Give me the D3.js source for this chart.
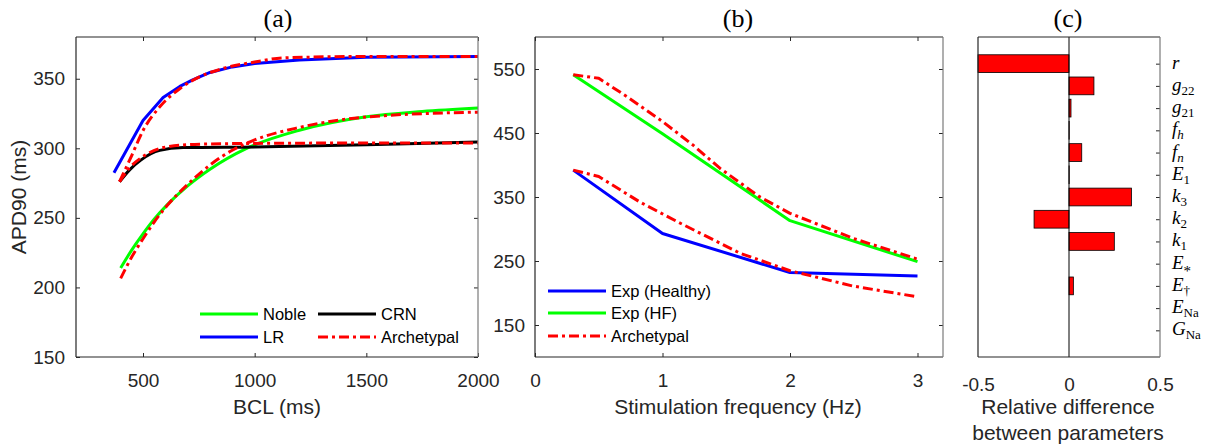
<!DOCTYPE html>
<html><head><meta charset="utf-8">
<script src="https://cdn.jsdelivr.net/npm/d3@7"></script>
<style>
body{margin:0;background:#fff;}
svg{display:block;}
</style></head>
<body>
<script>
// ---------- DATA ----------
// Panel (a): APD90 vs BCL
const nobleBCL = [400, 450, 500, 550, 606, 700, 800, 964, 1200, 1500, 1750, 2000];
const nobleAPD = [214, 227, 238.5, 249, 259, 273, 285, 300, 313, 322.7, 326.5, 329];
const lrBCL = [370, 500, 590, 665, 720, 800, 900, 1000, 1200, 1500, 2000];
const lrAPD = [282.5, 320, 336.5, 344.5, 349, 354.5, 358.5, 361, 363.5, 365.5, 366];
const crnBCL = [395, 440, 490, 575, 680, 1000, 1500, 2000];
const crnAPD = [276, 284.5, 291.5, 298.5, 300.5, 301, 302.5, 304.5];
const archNobleBCL = [400, 450, 500, 550, 606, 700, 800, 904, 1000, 1200, 1500, 2000];
const archNobleAPD = [206.5, 222, 235, 247, 258.5, 274, 288, 299, 306, 315, 322.5, 326];
const archLRBCL = [395, 450, 501, 576, 666, 755, 850, 1000, 1130, 1500, 2000];
const archLRAPD = [276, 295, 313, 330, 343, 351.5, 357, 362, 365, 366, 366];
const archCRNBCL = [395, 440, 490, 606, 755, 1000, 1500, 2000];
const archCRNAPD = [276, 286, 293, 301, 303, 303.5, 303.8, 303.8];
const xTicksA = [500, 1000, 1500, 2000];
const yTicksA = [150, 200, 250, 300, 350];

// Panel (b): APD90 vs stimulation frequency
const expFreq = [0.3, 1, 2, 3];
const expHealthy = [392, 293, 232, 226.5];
const expHF = [541, 449, 313, 249];
const archHFFreq = [0.3, 0.5, 0.72, 1.0, 1.24, 1.45, 1.76, 2.0, 2.5, 3.0];
const archHF = [541, 535.5, 507, 468, 431, 395, 350.5, 324.5, 285, 253];
const archHealthyFreq = [0.3, 0.5, 0.82, 1.14, 1.61, 2.0, 2.49, 3.0];
const archHealthy = [392, 382, 342.5, 309, 262, 234.8, 211, 194];
const xTicksB = [0, 1, 2, 3];
const yTicksB = [150, 250, 350, 450, 550];

// Panel (c): relative difference between parameters
const paramBase = ["r", "g", "g", "f", "f", "E", "k", "k", "k", "E", "E", "E", "G"];
const paramSub  = ["", "22", "21", "h", "n", "1", "3", "2", "1", "*", "\u2020", "Na", "Na"];
const paramValues = [-0.5, 0.137, 0.011, 0.001, 0.07, 0.001, 0.343, -0.192, 0.249, 0, 0.024, 0, 0];
const xTicksC = [-0.5, 0, 0.5];
const xTickLabelsC = ["-0.5", "0", "0.5"];

// ---------- DRAW ----------
const W = 1215, H = 448;
const SANS = '"Liberation Sans", Arial, sans-serif';
const SERIF = '"Liberation Serif", "Times New Roman", serif';
const AX = "#262626";
const svg = d3.select("body").append("svg").attr("width", W).attr("height", H);

const top0 = 37, bot0 = 357;
const GREEN = "#00ff00", BLUE = "#0000ff", RED = "#ff0000", BLACK = "#000000";
const DASHDOT = "10,4,3,4";

function styleAxis(g, fs) {
  g.select(".domain").remove();
  g.selectAll(".tick line").attr("stroke", AX).attr("stroke-width", 1);
  g.selectAll(".tick text").attr("font-size", fs).attr("font-family", SANS).attr("fill", AX);
}
function frame(x0, x1) {
  svg.append("line").attr("x1", x0).attr("x2", x1).attr("y1", bot0).attr("y2", bot0).attr("stroke", AX).attr("stroke-width", 1.2);
  svg.append("line").attr("x1", x0).attr("x2", x1).attr("y1", top0).attr("y2", top0).attr("stroke", AX).attr("stroke-width", 1.2);
  svg.append("line").attr("x1", x0).attr("x2", x0).attr("y1", top0).attr("y2", bot0).attr("stroke", AX).attr("stroke-width", 1.2);
  svg.append("line").attr("x1", x1).attr("x2", x1).attr("y1", top0).attr("y2", bot0).attr("stroke", "#7a7a7a").attr("stroke-width", 1.2);
}
function title(x, t) {
  svg.append("text").attr("x", x).attr("y", 27).attr("text-anchor", "middle")
    .attr("font-family", SERIF).attr("font-size", 26).attr("fill", "#000").text(t);
}
function label(x, y, t, rot) {
  const tx = svg.append("text").attr("text-anchor", "middle")
    .attr("font-family", SANS).attr("font-size", 21).attr("fill", AX).text(t);
  if (rot) tx.attr("transform", `translate(${x},${y}) rotate(-90)`);
  else tx.attr("x", x).attr("y", y);
}
function drawLine(g, xs, ys, xS, yS, color, dash, curve) {
  const pts = xs.map((v, i) => [v, ys[i]]);
  const gen = d3.line().x(d => xS(d[0])).y(d => yS(d[1])).curve(curve || d3.curveLinear);
  const p = g.append("path").attr("d", gen(pts)).attr("fill", "none").attr("stroke", color)
    .attr("stroke-width", 3).attr("stroke-linejoin", "round");
  if (dash) p.attr("stroke-dasharray", dash);
}
function legendItem(x, y, color, dash, text) {
  const l = svg.append("line").attr("x1", x).attr("x2", x + 58).attr("y1", y).attr("y2", y)
    .attr("stroke", color).attr("stroke-width", 3);
  if (dash) l.attr("stroke-dasharray", DASHDOT);
  svg.append("text").attr("x", x + 63).attr("y", y + 6).attr("font-family", SANS)
    .attr("font-size", 16.5).attr("fill", "#000").text(text);
}

// ----- Panel (a)
const xA = d3.scaleLinear().domain([200, 2000]).range([76, 478]);
const yA = d3.scaleLinear().domain([150, 380]).range([bot0, top0]);
svg.append("clipPath").attr("id", "clipA").append("rect")
  .attr("x", 76).attr("y", top0).attr("width", 402).attr("height", bot0 - top0);
const pA = svg.append("g").attr("clip-path", "url(#clipA)");
drawLine(pA, nobleBCL, nobleAPD, xA, yA, GREEN, null, d3.curveMonotoneX);
drawLine(pA, lrBCL, lrAPD, xA, yA, BLUE, null, d3.curveLinear);
drawLine(pA, crnBCL, crnAPD, xA, yA, BLACK, null, d3.curveMonotoneX);
drawLine(pA, archNobleBCL, archNobleAPD, xA, yA, RED, DASHDOT, d3.curveMonotoneX);
drawLine(pA, archLRBCL, archLRAPD, xA, yA, RED, DASHDOT, d3.curveMonotoneX);
drawLine(pA, archCRNBCL, archCRNAPD, xA, yA, RED, DASHDOT, d3.curveMonotoneX);

svg.append("g").attr("transform", `translate(0,${bot0})`)
  .call(d3.axisBottom(xA).tickValues(xTicksA).tickSize(-4).tickPadding(17).tickFormat(d3.format("d")))
  .call(g => styleAxis(g, 19));
svg.append("g").attr("transform", `translate(0,${top0})`)
  .call(d3.axisTop(xA).tickValues(xTicksA).tickSize(-4).tickFormat(""))
  .call(g => styleAxis(g, 19));
svg.append("g").attr("transform", `translate(76,0)`)
  .call(d3.axisLeft(yA).tickValues(yTicksA).tickSize(-4).tickPadding(11))
  .call(g => styleAxis(g, 19));
svg.append("g").attr("transform", `translate(478,0)`)
  .call(d3.axisRight(yA).tickValues(yTicksA).tickSize(-4).tickFormat(""))
  .call(g => styleAxis(g, 19));
frame(76, 478);
title(278, "(a)");
label(277, 414, "BCL (ms)");
label(26, 197, "APD90 (ms)", true);
legendItem(200, 314, GREEN, null, "Noble");
legendItem(200, 337, BLUE, null, "LR");
legendItem(318, 314, BLACK, null, "CRN");
legendItem(318, 337, RED, true, "Archetypal");

// ----- Panel (b)
const xB = d3.scaleLinear().domain([0, 3.2]).range([535, 943]);
const yB = d3.scaleLinear().domain([100, 600]).range([bot0, top0]);
const pB = svg.append("g");
drawLine(pB, expFreq, expHealthy, xB, yB, BLUE);
drawLine(pB, expFreq, expHF, xB, yB, GREEN);
drawLine(pB, archHFFreq, archHF, xB, yB, RED, DASHDOT);
drawLine(pB, archHealthyFreq, archHealthy, xB, yB, RED, DASHDOT);
svg.append("g").attr("transform", `translate(0,${bot0})`)
  .call(d3.axisBottom(xB).tickValues(xTicksB).tickSize(-4).tickPadding(17).tickFormat(d3.format("d")))
  .call(g => styleAxis(g, 19));
svg.append("g").attr("transform", `translate(0,${top0})`)
  .call(d3.axisTop(xB).tickValues(xTicksB).tickSize(-4).tickFormat(""))
  .call(g => styleAxis(g, 19));
svg.append("g").attr("transform", `translate(535,0)`)
  .call(d3.axisLeft(yB).tickValues(yTicksB).tickSize(-4).tickPadding(10))
  .call(g => styleAxis(g, 19));
svg.append("g").attr("transform", `translate(943,0)`)
  .call(d3.axisRight(yB).tickValues(yTicksB).tickSize(-4).tickFormat(""))
  .call(g => styleAxis(g, 19));
frame(535, 943);
title(738, "(b)");
label(738, 414, "Stimulation frequency (Hz)");
legendItem(548, 291, BLUE, null, "Exp (Healthy)");
legendItem(548, 313, GREEN, null, "Exp (HF)");
legendItem(548, 336, RED, true, "Archetypal");

// ----- Panel (c)
const xC = d3.scaleLinear().domain([-0.5, 0.5]).range([978, 1160]);
const yC = d3.scaleLinear().domain([-1.2, 13.2]).range([top0, bot0]);
const pC = svg.append("g");
pC.selectAll("rect").data(paramValues).join("rect")
  .attr("x", d => xC(Math.min(0, d)))
  .attr("width", d => Math.abs(xC(d) - xC(0)))
  .attr("y", (d, i) => yC(i - 0.4))
  .attr("height", (d, i) => yC(i + 0.4) - yC(i - 0.4))
  .attr("fill", RED).attr("stroke", "#000").attr("stroke-width", 0.8);
pC.append("line").attr("x1", xC(0)).attr("x2", xC(0)).attr("y1", top0).attr("y2", bot0)
  .attr("stroke", "#000").attr("stroke-width", 1);
svg.append("g").attr("transform", `translate(0,${bot0})`)
  .call(d3.axisBottom(xC).tickValues(xTicksC).tickSize(0).tickPadding(21)
    .tickFormat((d, i) => xTickLabelsC[i]))
  .call(g => styleAxis(g, 19));
svg.append("g").attr("transform", `translate(1160,0)`)
  .call(d3.axisRight(yC).tickValues(d3.range(paramValues.length)).tickSize(-4).tickFormat(""))
  .call(g => styleAxis(g, 19));
frame(978, 1160);
// category labels
paramBase.forEach((b, i) => {
  const t = svg.append("text").attr("x", 1172).attr("y", yC(i) + 5)
    .attr("font-family", SERIF).attr("font-size", 19).attr("fill", "#000");
  t.append("tspan").attr("font-style", "italic").text(b);
  const s = paramSub[i];
  if (s) {
    const italicSub = (s === "h" || s === "n");
    t.append("tspan").attr("font-size", s === "*" ? 15 : 13).attr("dy", s === "*" ? 7 : 4)
      .attr("font-style", italicSub ? "italic" : "normal").text(s);
  }
});
title(1068, "(c)");
label(1068, 414, "Relative difference");
label(1068, 440, "between parameters");
</script>
</body></html>
